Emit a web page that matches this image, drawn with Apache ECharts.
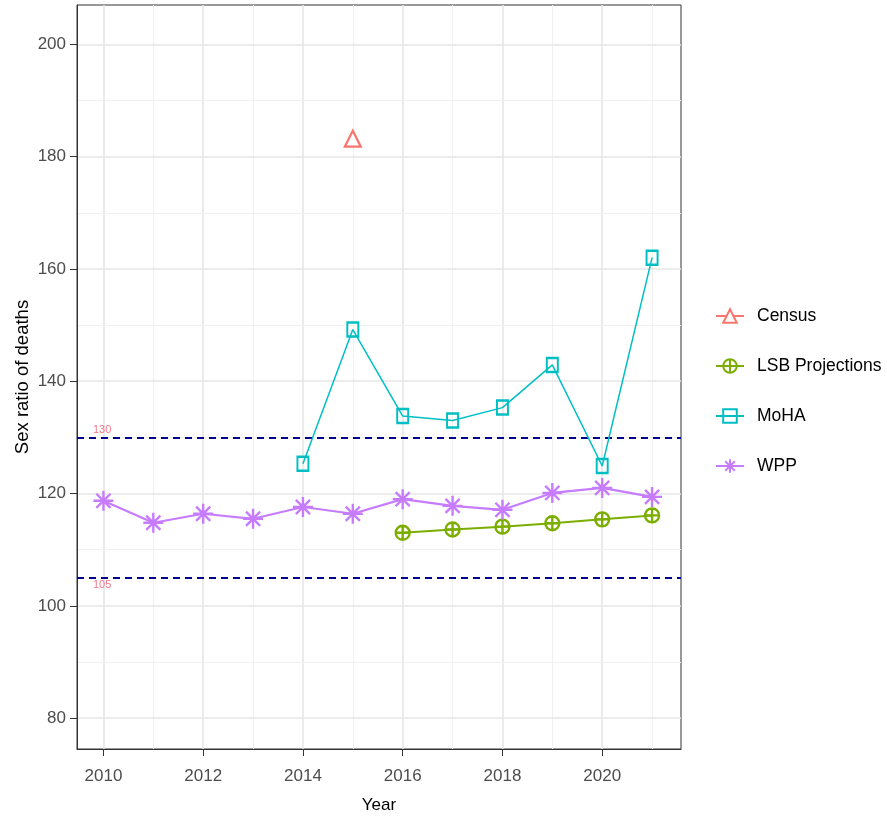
<!DOCTYPE html>
<html>
<head>
<meta charset="utf-8">
<script src="https://cdn.jsdelivr.net/npm/echarts@6/dist/echarts.min.js"></script>
<style>
  html, body { margin: 0; padding: 0; background: #fff; }
  #chart { width: 887px; height: 820px; }
</style>
</head>
<body>
<div id="chart"></div>
<script>
const years = [2010, 2011, 2012, 2013, 2014, 2015, 2016, 2017, 2018, 2019, 2020, 2021];
const census = [[2015, 183.2]];
const lsb = [113.0, 113.6, 114.1, 114.7, 115.4, 116.1];
const lsbYears = [2016, 2017, 2018, 2019, 2020, 2021];
const moha = [125.3, 149.2, 133.8, 133.0, 135.3, 142.9, 124.9, 162.0];
const mohaYears = [2014, 2015, 2016, 2017, 2018, 2019, 2020, 2021];
const wpp = [118.7, 114.8, 116.4, 115.5, 117.6, 116.4, 119.0, 117.8, 117.1, 120.1, 121.0, 119.4];
const xTicks = [2010, 2012, 2014, 2016, 2018, 2020];
const yTicks = [80, 100, 120, 140, 160, 180, 200];
const yMinor = [90, 110, 130, 150, 170, 190];
const refLines = [130, 105];

const chart = echarts.init(document.getElementById('chart'));

const narrow = 'Liberation Sans Narrow, Liberation Sans';
const sans = 'Liberation Sans';

const gridLines = [];
years.forEach((y) => {
  const major = xTicks.includes(y);
  gridLines.push({ xAxis: y, lineStyle: { color: major ? '#e6e6e6' : '#f0f0f0', width: major ? 1.6 : 1, type: 'solid' } });
});
yTicks.forEach((v) => gridLines.push({ yAxis: v, lineStyle: { color: '#e6e6e6', width: 1.6, type: 'solid' } }));
yMinor.forEach((v) => gridLines.push({ yAxis: v, lineStyle: { color: '#f0f0f0', width: 1, type: 'solid' } }));

const asterisk = 'path://M0,-10L0,10M-10,0L10,0M-7.07,-7.07L7.07,7.07M-7.07,7.07L7.07,-7.07';
const circlePlus = 'path://M0,-10A10,10 0 1,1 0,10A10,10 0 1,1 0,-10ZM0,-10L0,10M-10,0L10,0';

const option = {
  animation: false,
  grid: {
    left: 77,
    top: 5,
    width: 604,
    height: 744,
    show: true,
    borderColor: '#333',
    borderWidth: 1,
  },
  legend: {
    orient: 'vertical',
    left: 715,
    top: 306,
    padding: 0,
    itemWidth: 28,
    itemHeight: 17,
    itemGap: 30,
    data: ['Census', 'LSB Projections', 'MoHA', 'WPP'],
    textStyle: {
      fontFamily: sans,
      fontSize: 17.5,
      color: '#000',
      lineHeight: 20,
      padding: [0, 0, 0, 8],
    },
  },
  xAxis: {
    type: 'value',
    min: 2009.47,
    max: 2021.58,
    name: 'Year',
    nameLocation: 'middle',
    nameGap: 48,
    nameMoveOverlap: false,
    nameTextStyle: { fontFamily: narrow, fontSize: 17, color: '#000' },
    axisLine: { show: true, lineStyle: { color: '#333', width: 1 } },
    axisTick: { show: true, length: 7, customValues: xTicks, lineStyle: { color: '#333' } },
    axisLabel: {
      customValues: xTicks,
      formatter: (v) => String(v),
      fontFamily: narrow,
      fontSize: 17,
      color: '#4d4d4d',
      margin: 19,
    },
    splitLine: { show: false },
  },
  yAxis: {
    type: 'value',
    min: 74.5,
    max: 207,
    name: 'Sex ratio of deaths',
    nameLocation: 'middle',
    nameGap: 45,
    nameMoveOverlap: false,
    nameTextStyle: { fontFamily: sans, fontSize: 18.5, color: '#000' },
    axisLine: { show: true, lineStyle: { color: '#333', width: 1 } },
    axisTick: { show: true, length: 7, customValues: yTicks, lineStyle: { color: '#333' } },
    axisLabel: {
      customValues: yTicks,
      formatter: (v) => String(v),
      fontFamily: narrow,
      fontSize: 17,
      color: '#4d4d4d',
      margin: 11,
    },
    splitLine: { show: false },
  },
  series: [
    {
      name: 'grid',
      type: 'line',
      data: [],
      z: 0,
      silent: true,
      markLine: {
        z: 0,
        silent: true,
        symbol: 'none',
        label: { show: false },
        data: gridLines,
      },
    },
    {
      name: 'ref',
      type: 'line',
      data: [],
      z: 1,
      silent: true,
      markLine: {
        z: 1,
        silent: true,
        symbol: 'none',
        lineStyle: { color: '#00008b', type: [7, 5], width: 2 },
        label: {
          show: true,
          formatter: (p) => String(p.value),
          color: '#f07a8c',
          fontFamily: sans,
          fontSize: 11,
          distance: [16, 2],
        },
        data: refLines.map((v, i) => ({
          yAxis: v,
          label: { position: i === 0 ? 'insideStartTop' : 'insideStartBottom' },
        })),
      },
    },
    {
      name: 'Census',
      type: 'line',
      z: 10,
      data: census,
      symbol: 'triangle',
      symbolSize: 16,
      color: '#F8766D',
      itemStyle: { color: '#fff', borderColor: '#F8766D', borderWidth: 2.2 },
      lineStyle: { color: '#F8766D', width: 2 },
    },
    {
      name: 'LSB Projections',
      type: 'line',
      z: 10,
      data: lsbYears.map((y, i) => [y, lsb[i]]),
      symbol: circlePlus,
      symbolSize: 14,
      color: '#7CAE00',
      itemStyle: { color: 'rgba(255,255,255,0)', borderColor: '#7CAE00', borderWidth: 2.4 },
      lineStyle: { color: '#7CAE00', width: 2 },
    },
    {
      name: 'MoHA',
      type: 'line',
      z: 10,
      data: mohaYears.map((y, i) => [y, moha[i]]),
      symbol: 'rect',
      symbolSize: [11, 14],
      color: '#00BFC4',
      itemStyle: { color: 'rgba(255,255,255,0)', borderColor: '#00BFC4', borderWidth: 2.2 },
      lineStyle: { color: '#00BFC4', width: 1.5 },
    },
    {
      name: 'WPP',
      type: 'line',
      z: 10,
      data: years.map((y, i) => [y, wpp[i]]),
      symbol: asterisk,
      symbolSize: 20,
      color: '#C77CFF',
      itemStyle: { color: '#C77CFF', borderColor: '#C77CFF', borderWidth: 2.4 },
      lineStyle: { color: '#C77CFF', width: 2.2 },
    },
  ],
};

chart.setOption(option);
</script>
</body>
</html>
